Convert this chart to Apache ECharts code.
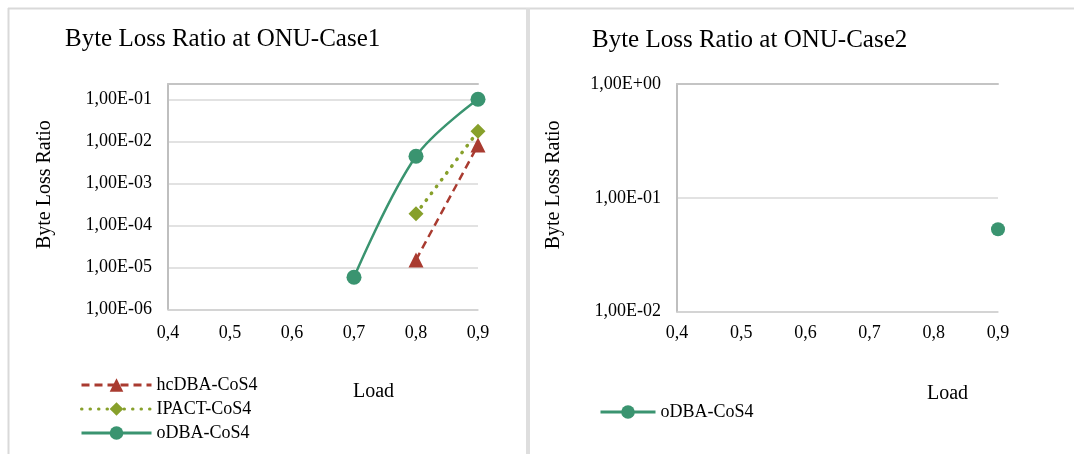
<!DOCTYPE html>
<html>
<head>
<meta charset="utf-8">
<script src="https://cdn.jsdelivr.net/npm/echarts@6/dist/echarts.min.js"></script>
<style>
html,body{margin:0;padding:0;background:#fff;}
#c{width:1074px;height:454px;}
</style>
</head>
<body>
<div id="c"></div>
<script>
// ---- data ----
const xTicks = [0.4, 0.5, 0.6, 0.7, 0.8, 0.9];
const hcLoad = [0.8, 0.9];
const hcDBA = [1.5e-5, 8.1e-3];
const ipLoad = [0.8, 0.9];
const ipact = [1.87e-4, 1.73e-2];
const odLoad1 = [0.7, 0.8, 0.9];
const odba1 = [5.8e-6, 4.4e-3, 0.1];
const odLoad2 = [0.9];
const odba2 = [0.053];
const names = ['hcDBA-CoS4', 'IPACT-CoS4', 'oDBA-CoS4'];

const F = 'Liberation Serif';
const RED = '#a93b30', OLIVE = '#87a02b', GREEN = '#3a9470';

function pairs(xs, ys) { return xs.map((x, i) => [x, ys[i]]); }
function expLabel(v) {
  const l = Math.log10(v);
  const e = Math.round(l);
  if (Math.abs(l - e) > 1e-6) return '';
  const s = e < 0 ? '-' : '+';
  const a = Math.abs(e);
  return '1,00E' + s + (a < 10 ? '0' : '') + a;
}
function xLabel(v) { return (Math.round(v * 10) / 10).toFixed(1).replace('.', ','); }

const txt = (size) => ({ fontFamily: F, fontSize: size, color: '#000', fontWeight: 'normal' });

function xAxisFor(g, margin) {
  return {
    type: 'value', gridIndex: g, min: xTicks[0], max: xTicks[xTicks.length - 1], interval: 0.1,
    axisLine: { show: true, lineStyle: { color: '#d0d0d0', width: 1.5 } },
    axisTick: { show: false }, splitLine: { show: false },
    axisLabel: { formatter: xLabel, margin: margin, ...txt(18) }
  };
}
function topAxisFor(g) {
  return {
    type: 'value', gridIndex: g, position: 'top', min: xTicks[0], max: xTicks[xTicks.length - 1],
    axisLine: { show: true, onZero: false, lineStyle: { color: '#c4c4c4', width: 2 } },
    axisTick: { show: false }, axisLabel: { show: false }, splitLine: { show: false }
  };
}
function yAxisFor(g, min, max, gap, pad) {
  return {
    type: 'log', logBase: 10, gridIndex: g, min: min, max: max,
    name: 'Byte Loss Ratio', nameLocation: 'middle', nameGap: gap, nameRotate: 90,
    nameTextStyle: { ...txt(20), padding: pad },
    axisLine: { show: true, lineStyle: { color: '#bfbfbf', width: 2 } },
    axisTick: { show: false },
    splitLine: { show: true, lineStyle: { color: '#d9d9d9', width: 1.5 } },
    axisLabel: { formatter: expLabel, margin: 16, ...txt(18) }
  };
}

const chart = echarts.init(document.getElementById('c'), null, { renderer: 'canvas' });
chart.setOption({
  animation: false,
  backgroundColor: '#fff',
  graphic: [
    { type: 'line', shape: { x1: 8, y1: 8.5, x2: 1074, y2: 8.5 }, style: { stroke: '#d9d9d9', lineWidth: 2 } },
    { type: 'line', shape: { x1: 8.5, y1: 8, x2: 8.5, y2: 454 }, style: { stroke: '#d9d9d9', lineWidth: 2 } },
    { type: 'line', shape: { x1: 528, y1: 8, x2: 528, y2: 454 }, style: { stroke: '#dedede', lineWidth: 4 } }
  ],
  title: [
    { text: 'Byte Loss Ratio at ONU-Case1', left: 65, top: 27, padding: 0, textStyle: txt(25) },
    { text: 'Byte Loss Ratio at ONU-Case2', left: 592, top: 28, padding: 0, textStyle: txt(25) },
    { text: 'Load', left: 353, top: 382, padding: 0, textStyle: txt(20) },
    { text: 'Load', left: 927, top: 384, padding: 0, textStyle: txt(20) }
  ],
  legend: [
    {
      data: names, orient: 'vertical', left: 80, top: 376, padding: 0, itemWidth: 70, itemHeight: 17, itemGap: 6,
      textStyle: txt(18), selectedMode: false, lineStyle: { width: 3 }
    },
    {
      data: ['oDBA-CoS4'], orient: 'vertical', left: 599, top: 403, padding: 0, itemWidth: 55, itemHeight: 17,
      textStyle: txt(18), selectedMode: false, lineStyle: { width: 3 }
    }
  ],
  grid: [
    { left: 168, top: 84, width: 310, height: 225.3 },
    { left: 677, top: 84, width: 321, height: 227.7 }
  ],
  xAxis: [xAxisFor(0, 15), topAxisFor(0), xAxisFor(1, 13), topAxisFor(1)],
  yAxis: [yAxisFor(0, 1e-6, 0.231, 113, [0, 0, 0, 24]), yAxisFor(1, 0.01, 1, 113, [0, 0, 0, 26])],
  series: [
    {
      name: names[0], type: 'line', xAxisIndex: 0, yAxisIndex: 0, data: pairs(hcLoad, hcDBA),
      symbol: 'triangle', symbolSize: 15, color: RED,
      lineStyle: { color: RED, width: 2.5, type: [8, 5] }, itemStyle: { color: RED }
    },
    {
      name: names[1], type: 'line', xAxisIndex: 0, yAxisIndex: 0, data: pairs(ipLoad, ipact),
      symbol: 'diamond', symbolSize: 15, color: OLIVE,
      lineStyle: { color: OLIVE, width: 3.5, type: [0.5, 8], cap: 'round' }, itemStyle: { color: OLIVE }
    },
    {
      name: names[2], type: 'line', xAxisIndex: 0, yAxisIndex: 0, data: pairs(odLoad1, odba1),
      symbol: 'circle', symbolSize: 15, smooth: 0.35, color: GREEN,
      lineStyle: { color: GREEN, width: 2.5 }, itemStyle: { color: GREEN }
    },
    {
      name: names[2], type: 'line', xAxisIndex: 2, yAxisIndex: 1, data: pairs(odLoad2, odba2),
      symbol: 'circle', symbolSize: 14, color: GREEN,
      lineStyle: { color: GREEN, width: 2.5 }, itemStyle: { color: GREEN }
    }
  ]
});
</script>
</body>
</html>
